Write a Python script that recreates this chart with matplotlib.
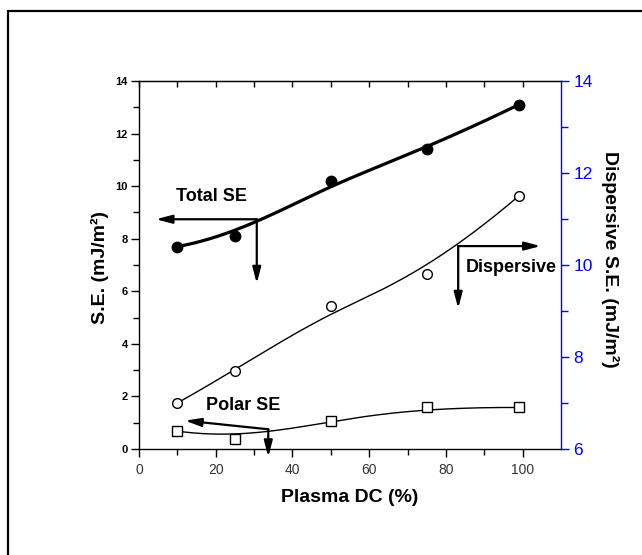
import numpy as np
import matplotlib
matplotlib.use("Agg")
import matplotlib.pyplot as plt
from matplotlib.patches import Rectangle

plt.rcParams['font.family'] = ['Liberation Sans', 'DejaVu Sans']

# data
plasma_dc = [10, 25, 50, 75, 99]
total_se = [7.7, 8.1, 10.2, 11.4, 13.1]
dispersive_se = [7.0, 7.7, 9.1, 9.8, 11.5]   # right axis units
polar_se = [0.68, 0.38, 1.08, 1.59, 1.58]


def bspline(xs, ys, n=300):
    # clamped cubic B-spline, data points used as control points (Origin style)
    pts = np.column_stack([xs, ys]).astype(float)
    m = len(pts)
    k = 3
    inner = np.linspace(0, 1, m - k + 1)[1:-1]
    t = np.concatenate([[0.0] * (k + 1), inner, [1.0] * (k + 1)])
    u = np.linspace(0, 1 - 1e-9, n)

    def N(i, d):
        if d == 0:
            return np.where((t[i] <= u) & (u < t[i + 1]), 1.0, 0.0)
        a = 0.0
        b = 0.0
        if t[i + d] != t[i]:
            a = (u - t[i]) / (t[i + d] - t[i]) * N(i, d - 1)
        if t[i + d + 1] != t[i + 1]:
            b = (t[i + d + 1] - u) / (t[i + d + 1] - t[i + 1]) * N(i + 1, d - 1)
        return a + b

    curve = sum(N(i, k)[:, None] * pts[i] for i in range(m))
    return curve[:, 0], curve[:, 1]


fig = plt.figure(figsize=(6.42, 5.55), dpi=100)
ax = fig.add_axes([139 / 642, 1 - 449 / 555, 422 / 642, 368 / 555])
ax2 = ax.twinx()

# outer frame (runs off the right and bottom of the image)
fig.patches.append(Rectangle((8 / 642, -0.1), 1.2, 1 - 11 / 555 + 0.1,
                             transform=fig.transFigure, fill=False,
                             lw=1.6, ec='black'))

# curves
cx, cy = bspline(plasma_dc, total_se)
ax.plot(cx, cy, color='black', lw=2.3, zorder=3)
ax.plot(plasma_dc, total_se, 'o', color='black', ms=7.5, zorder=4)

cx, cy = bspline(plasma_dc, polar_se)
ax.plot(cx, cy, color='black', lw=1.0, zorder=3)
ax.plot(plasma_dc, polar_se, 's', mfc='white', mec='black', mew=1.0, ms=6.5, zorder=4)

cx, cy = bspline(plasma_dc, dispersive_se)
ax2.plot(cx, cy, color='black', lw=1.0, zorder=3)
ax2.plot(plasma_dc, dispersive_se, 'o', mfc='white', mec='black', mew=1.0, ms=7, zorder=4)

# axes
ax.set_xlim(0, 110)
ax.set_ylim(0, 14)
ax2.set_ylim(6, 14)

ax.set_xticks(range(0, 101, 20))
ax.set_xticks(range(10, 101, 20), minor=True)
ax.set_yticks(range(0, 15, 2))
ax.set_yticks(range(1, 14, 2), minor=True)
ax2.set_yticks(range(6, 15, 2))
ax2.set_yticks(range(7, 14, 2), minor=True)

ax.tick_params(axis='x', which='major', direction='out', length=6, width=1,
               labelsize=10, labelcolor='#333333', pad=4)
ax.tick_params(axis='x', which='minor', direction='out', length=4, width=1)
ax.tick_params(axis='y', which='major', direction='out', length=6, width=1,
               labelsize=8, pad=2)
ax.tick_params(axis='y', which='minor', direction='out', length=4, width=1)
ax.tick_params(right=False, which='both')
for lab in ax.get_yticklabels():
    lab.set_fontweight('bold')

ax2.tick_params(axis='y', which='major', direction='out', length=6, width=1,
                colors='blue', labelsize=12.5, pad=3)
ax2.tick_params(axis='y', which='minor', direction='out', length=5, width=1,
                colors='blue')

for s in ['top', 'bottom', 'left']:
    ax2.spines[s].set_visible(False)
ax2.spines['right'].set_color('blue')
ax.spines['right'].set_visible(False)
for s in ax.spines.values():
    s.set_linewidth(1.0)
ax2.spines['right'].set_linewidth(1.0)

top = ax.secondary_xaxis('top')
top.set_xticks(range(0, 101, 10))
top.tick_params(direction='in', length=4, width=1, labeltop=False)

# axis titles
fig.text(350 / 642, 1 - 498 / 555, 'Plasma DC (%)', ha='center', va='center',
         fontsize=14, fontweight='bold')
fig.text(100 / 642, 1 - 268 / 555, 'S.E. (mJ/m\u00b2)', ha='center', va='center',
         rotation=90, fontsize=14, fontweight='bold')
fig.text(610 / 642, 1 - 259 / 555, 'Dispersive S.E. (mJ/m\u00b2)', ha='center',
         va='center', rotation=270, fontsize=14, fontweight='bold')

# annotations with arrows
arrow = dict(arrowstyle='-|>,head_length=0.95,head_width=0.25', color='black',
             lw=1.6, mutation_scale=10, shrinkA=0, shrinkB=0)


def callout(junction, tips):
    for tip in tips:
        ax.annotate('', xy=tip, xytext=junction, arrowprops=arrow,
                    annotation_clip=False)


callout((30.7, 8.74), [(4.4, 8.74), (30.7, 6.3)])
ax.text(19.0, 9.62, 'Total SE', ha='center', va='center', fontsize=13,
        fontweight='bold')

callout((83.2, 7.72), [(104.7, 7.72), (83.2, 5.35)])
ax.text(97.1, 6.89, 'Dispersive', ha='center', va='center', fontsize=13,
        fontweight='bold')

callout((33.7, 0.75), [(12.0, 1.08), (33.7, -0.3)])
ax.text(27.1, 1.65, 'Polar SE', ha='center', va='center', fontsize=13,
        fontweight='bold')

fig.savefig('out.png', dpi=100)
